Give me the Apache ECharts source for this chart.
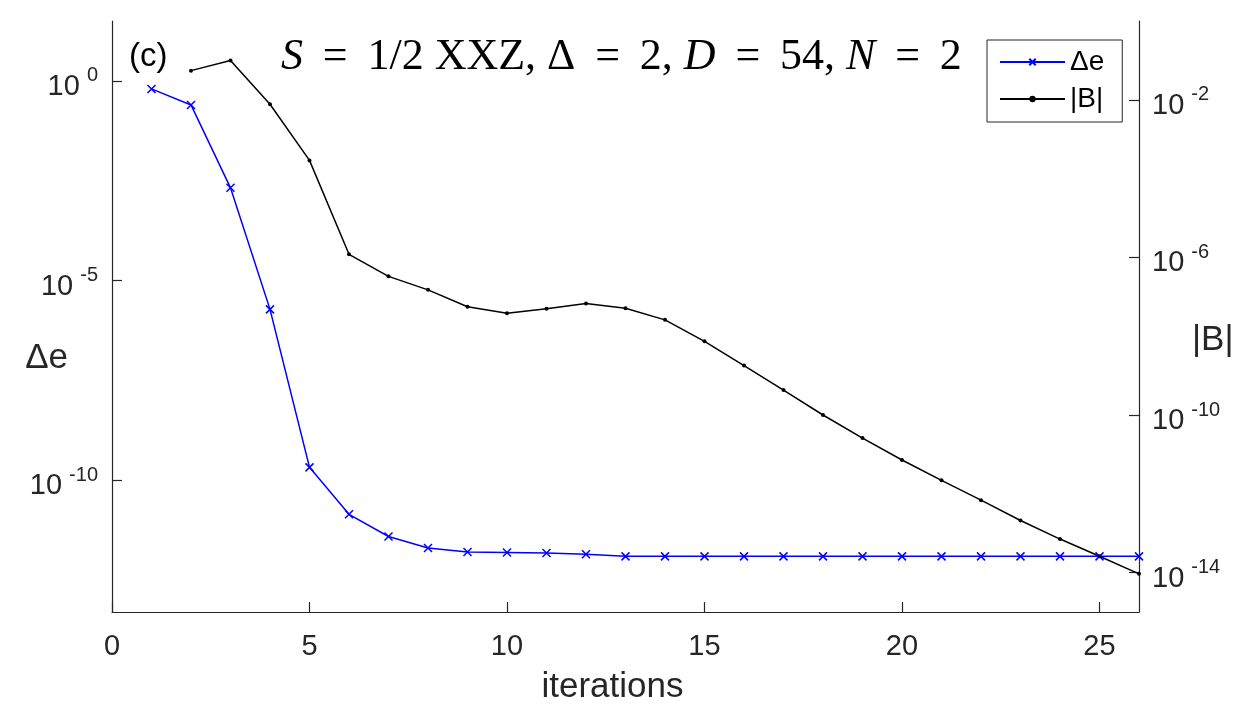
<!DOCTYPE html>
<html>
<head>
<meta charset="utf-8">
<script src="https://cdn.jsdelivr.net/npm/echarts@6/dist/echarts.min.js"></script>
<style>html,body{margin:0;padding:0;background:#fff}#chart{width:1250px;height:705px}</style>
</head>
<body>
<div id="chart"></div>
<script>
// ---- data ----
const iterations = [1,2,3,4,5,6,7,8,9,10,11,12,13,14,15,16,17,18,19,20,21,22,23,24,25,26];
const deltaE = [0.63, 0.25, 2.1e-3, 1.9e-6, 2.1e-10, 1.4e-11, 3.9e-12, 2.0e-12, 1.6e-12, 1.55e-12, 1.5e-12, 1.4e-12,
  1.24e-12, 1.24e-12, 1.24e-12, 1.24e-12, 1.24e-12, 1.24e-12, 1.24e-12, 1.24e-12, 1.24e-12, 1.24e-12, 1.24e-12, 1.24e-12, 1.24e-12, 1.24e-12];
const iterationsB = [2,3,4,5,6,7,8,9,10,11,12,13,14,15,16,17,18,19,20,21,22,23,24,25,26];
const normB = [5.5e-2, 1.0e-1, 7.7e-3, 2.9e-4, 1.2e-6, 3.3e-7, 1.5e-7, 5.6e-8, 3.8e-8, 5.0e-8, 6.8e-8, 5.1e-8, 2.6e-8,
  7.4e-9, 1.8e-9, 4.3e-10, 1.0e-10, 2.6e-11, 7.2e-12, 2.2e-12, 6.9e-13, 2.1e-13, 7.1e-14, 2.6e-14, 9.3e-15];
const xTicks = [0, 5, 10, 15, 20, 25];
const leftTicks = [1, 1e-5, 1e-10];
const rightTicks = [1e-2, 1e-6, 1e-10, 1e-14];

const AX = '#262626';
const FONT = '"Liberation Sans", Arial, Helvetica, sans-serif';
const SERIF = '"Liberation Serif", "DejaVu Serif", serif';
const expLabel = v => '{b|10}{s|' + Math.round(Math.log10(v)) + '}';
const richExp = {
  b: { fontSize: 29, fontFamily: FONT, color: AX, lineHeight: 34, padding: [12, 0, 0, 0] },
  s: { fontSize: 20, fontFamily: FONT, color: AX, lineHeight: 24, padding: [0, 0, 10, 7] }
};
const xMarker = 'path://M0,0L10,10M10,0L0,10';
const EQ = '\u2005\u2009=\u2005\u2009';

const chart = echarts.init(document.getElementById('chart'), null, { renderer: 'canvas' });
chart.setOption({
  animation: false,
  backgroundColor: '#fff',
  title: [
    { text: '(c)', left: 124, top: 35, textStyle: { fontSize: 33, fontWeight: 'normal', color: '#000', fontFamily: FONT } },
    { text: '{i|S}' + EQ + '1/2 XXZ, Δ' + EQ + '2, {i|D}' + EQ + '54, {i|N}' + EQ + '2', left: 276, top: 30,
      textStyle: { fontSize: 44, fontWeight: 'normal', color: '#000', fontFamily: SERIF,
        rich: { i: { fontSize: 44, fontStyle: 'italic', color: '#000', fontFamily: SERIF } } } }
  ],
  legend: {
    orient: 'vertical', left: 987, top: 40,
    backgroundColor: '#fff', borderColor: AX, borderWidth: 1, borderRadius: 0,
    padding: [8, 18, 9, 12], itemGap: 9, itemWidth: 65, itemHeight: 8,
    textStyle: { fontSize: 28, lineHeight: 28, color: '#000', fontFamily: FONT },
    data: ['Δe', '|B|']
  },
  grid: { left: 112, right: 111, top: 21, bottom: 93, containLabel: false, outerBoundsMode: 'none' },
  xAxis: {
    type: 'value', min: 0, max: 26, interval: 5,
    name: 'iterations', nameLocation: 'middle', nameGap: 58, nameMoveOverlap: false,
    nameTextStyle: { fontSize: 35, color: AX, fontFamily: FONT, padding: [0, 26, 0, 0] },
    axisLine: { onZero: false, lineStyle: { color: AX, width: 1.2 } },
    axisTick: { inside: true, length: 10, lineStyle: { color: AX, width: 1.2 }, customValues: xTicks },
    axisLabel: { fontSize: 29, color: AX, fontFamily: FONT, margin: 20, customValues: xTicks },
    splitLine: { show: false }
  },
  yAxis: [
    {
      type: 'log', logBase: 10, min: Math.pow(10, -13.3), max: Math.pow(10, 1.5), position: 'left',
      name: '\nΔe', nameLocation: 'middle', nameRotate: 0, nameGap: 44, nameMoveOverlap: false,
      nameTextStyle: { fontSize: 35, lineHeight: 84, color: AX, fontFamily: FONT, align: 'right' },
      axisLine: { show: true, onZero: false, lineStyle: { color: AX, width: 1.2 } },
      axisTick: { show: true, inside: true, length: 10, lineStyle: { color: AX, width: 1.2 }, customValues: leftTicks },
      axisLabel: { margin: 14, formatter: expLabel, rich: richExp, customValues: leftTicks },
      splitLine: { show: false }, minorTick: { show: false }
    },
    {
      type: 'log', logBase: 10, min: 1e-15, max: 1, position: 'right',
      name: '\n|B|', nameLocation: 'middle', nameRotate: 0, nameGap: 53, nameMoveOverlap: false,
      nameTextStyle: { fontSize: 35, lineHeight: 47, color: AX, fontFamily: FONT, align: 'left' },
      axisLine: { show: true, onZero: false, lineStyle: { color: AX, width: 1.2 } },
      axisTick: { show: true, inside: true, length: 10, lineStyle: { color: AX, width: 1.2 }, customValues: rightTicks },
      axisLabel: { margin: 13, formatter: expLabel, rich: richExp, customValues: rightTicks },
      splitLine: { show: false }, minorTick: { show: false }
    }
  ],
  series: [
    {
      name: 'Δe', type: 'line', yAxisIndex: 0,
      data: iterations.map((x, i) => [x, deltaE[i]]),
      symbol: xMarker, symbolSize: 8, showAllSymbol: true,
      lineStyle: { color: '#0000ff', width: 1.5 },
      itemStyle: { color: '#0000ff', borderColor: '#0000ff', borderWidth: 1.5 },
      emphasis: { disabled: true }
    },
    {
      name: '|B|', type: 'line', yAxisIndex: 1,
      data: iterationsB.map((x, i) => [x, normB[i]]),
      symbol: 'circle', symbolSize: 4, showAllSymbol: true,
      lineStyle: { color: '#000000', width: 1.5 },
      itemStyle: { color: '#000000' },
      emphasis: { disabled: true }
    }
  ]
});
</script>
</body>
</html>
